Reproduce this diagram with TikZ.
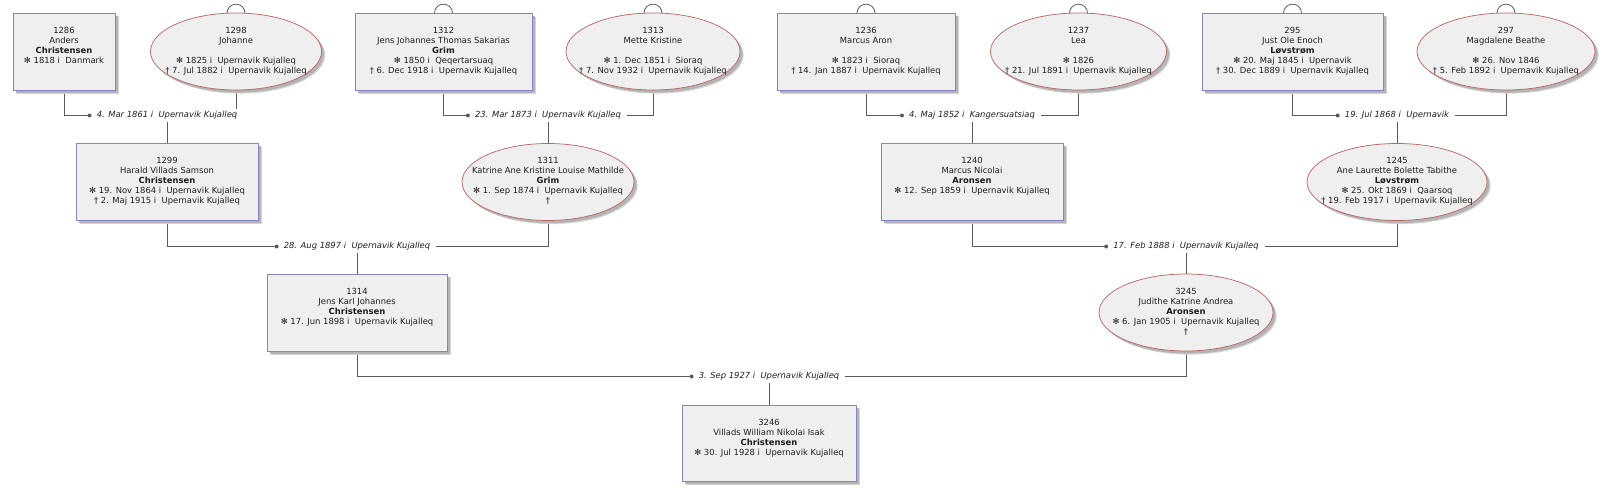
\documentclass[tikz,border=0pt]{standalone}
\usepackage{fontspec}
\setmainfont{DejaVu Sans}
\usetikzlibrary{shadows,backgrounds,shapes.geometric}
\definecolor{boxfill}{HTML}{EFEFEF}
\definecolor{boxline}{HTML}{8484C8}
\definecolor{ellline}{HTML}{B86A68}
\definecolor{conncol}{HTML}{5A5A5A}
\definecolor{shadowA}{HTML}{D4D4D4}
\definecolor{shadowB}{HTML}{B4B4B4}
\definecolor{txtcol}{HTML}{1E1E1E}
\tikzset{
  person/.style={fill=boxfill, inner sep=0pt, minimum height=77pt, line width=0.75pt,
    drop shadow={shadow xshift=3.6pt, shadow yshift=-3.6pt, fill=shadowA, opacity=1},
    drop shadow={shadow xshift=2.6pt, shadow yshift=-2.6pt, fill=shadowB, opacity=1}},
  male/.style={person, rectangle, draw=boxline},
  female/.style={person, ellipse, draw=ellline},
  ptext/.style={align=center, inner sep=0pt, text=txtcol, font=\fontsize{8.4}{10}\selectfont},
  mlab/.style={fill=white, inner xsep=6pt, inner ysep=2.5pt, text=txtcol, font=\fontsize{8.4}{10}\selectfont\itshape},
  mdot/.style={circle, fill=conncol, inner sep=0pt, minimum size=4pt},
  conn/.style={draw=conncol, line width=0.7pt},
  loopst/.style={draw=conncol, line width=0.8pt},
}
\newcommand\bsym{✻}
\begin{document}
\begin{tikzpicture}[x=1pt,y=-1pt]
\useasboundingbox (0,0) rectangle (1607,500);
% ---------- row 1
\node[male, minimum width=102pt, label={[ptext]center:{\strut 1286\\Anders\\\textbf{Christensen}\\\bsym{} 1818 i~ Danmark\\\strut}}] (p1286) at (64,51.5) {};
\node[female, minimum width=171pt, label={[ptext]center:{\strut 1298\\Johanne\\\strut\\\bsym{} 1825 i~ Upernavik Kujalleq\\† 7. Jul 1882 i~ Upernavik Kujalleq\strut}}] (p1298) at (236,51.5) {};
\node[male, minimum width=177pt, label={[ptext]center:{\strut 1312\\Jens Johannes Thomas Sakarias\\\textbf{Grim}\\\bsym{} 1850 i~ Qeqertarsuaq\\† 6. Dec 1918 i~ Upernavik Kujalleq\strut}}] (p1312) at (443.5,51.5) {};
\node[female, minimum width=174pt, label={[ptext]center:{\strut 1313\\Mette Kristine\\\strut\\\bsym{} 1. Dec 1851 i~ Sioraq\\† 7. Nov 1932 i~ Upernavik Kujalleq\strut}}] (p1313) at (653,51.5) {};
\node[male, minimum width=178pt, label={[ptext]center:{\strut 1236\\Marcus Aron\\\strut\\\bsym{} 1823 i~ Sioraq\\† 14. Jan 1887 i~ Upernavik Kujalleq\strut}}] (p1236) at (866,51.5) {};
\node[female, minimum width=176pt, label={[ptext]center:{\strut 1237\\Lea\\\strut\\\bsym{} 1826\\† 21. Jul 1891 i~ Upernavik Kujalleq\strut}}] (p1237) at (1078.5,51.5) {};
\node[male, minimum width=181pt, label={[ptext]center:{\strut 295\\Just Ole Enoch\\\textbf{Løvstrøm}\\\bsym{} 20. Maj 1845 i~ Upernavik\\† 30. Dec 1889 i~ Upernavik Kujalleq\strut}}] (p295) at (1292.5,51.5) {};
\node[female, minimum width=178pt, label={[ptext]center:{\strut 297\\Magdalene Beathe\\\strut\\\bsym{} 26. Nov 1846\\† 5. Feb 1892 i~ Upernavik Kujalleq\strut}}] (p297) at (1506,51.5) {};
% ---------- row 2
\node[male, minimum width=182pt, label={[ptext]center:{\strut 1299\\Harald Villads Samson\\\textbf{Christensen}\\\bsym{} 19. Nov 1864 i~ Upernavik Kujalleq\\† 2. Maj 1915 i~ Upernavik Kujalleq\strut}}] (c1299) at (167,182) {};
\node[female, minimum width=172pt, label={[ptext]center:{\strut 1311\\Katrine Ane Kristine Louise Mathilde\\\textbf{Grim}\\\bsym{} 1. Sep 1874 i~ Upernavik Kujalleq\\†\strut}}] (c1311) at (548,182) {};
\node[male, minimum width=182pt, label={[ptext]center:{\strut 1240\\Marcus Nicolai\\\textbf{Aronsen}\\\bsym{} 12. Sep 1859 i~ Upernavik Kujalleq\\\strut}}] (c1240) at (972,182) {};
\node[female, minimum width=180pt, label={[ptext]center:{\strut 1245\\Ane Laurette Bolette Tabithe\\\textbf{Løvstrøm}\\\bsym{} 25. Okt 1869 i~ Qaarsoq\\† 19. Feb 1917 i~ Upernavik Kujalleq\strut}}] (c1245) at (1397,182) {};
% ---------- row 3
\node[male, minimum width=180pt, label={[ptext]center:{\strut 1314\\Jens Karl Johannes\\\textbf{Christensen}\\\bsym{} 17. Jun 1898 i~ Upernavik Kujalleq\\\strut}}] (c1314) at (357,312.5) {};
\node[female, minimum width=174pt, label={[ptext]center:{\strut 3245\\Judithe Katrine Andrea\\\textbf{Aronsen}\\\bsym{} 6. Jan 1905 i~ Upernavik Kujalleq\\†\strut}}] (c3245) at (1186,312.5) {};
% ---------- row 4
\node[male, minimum width=174pt, minimum height=76pt, label={[ptext]center:{\strut 3246\\Villads William Nikolai Isak\\\textbf{Christensen}\\\bsym{} 30. Jul 1928 i~ Upernavik Kujalleq\\\strut}}] (c3246) at (769,443) {};
% ---------- marriage labels
\node[mlab] (m1) at (167,115.5) {4. Mar 1861 i~ Upernavik Kujalleq};
\node[mlab] (m2) at (548,115.5) {23. Mar 1873 i~ Upernavik Kujalleq};
\node[mlab] (m3) at (972,115.5) {4. Maj 1852 i~ Kangersuatsiaq};
\node[mlab] (m4) at (1397,115.5) {19. Jul 1868 i~ Upernavik};
\node[mlab] (m5) at (357,246.5) {28. Aug 1897 i~ Upernavik Kujalleq};
\node[mlab] (m6) at (1186,246.5) {17. Feb 1888 i~ Upernavik Kujalleq};
\node[mlab] (m7) at (769,376.5) {3. Sep 1927 i~ Upernavik Kujalleq};
\foreach \m in {m1,m2,m3,m4,m5,m6,m7}
  \node[mdot] (\m d) at ([xshift=-1pt]\m.west) {};
% ---------- loops
\foreach \p in {p1298,p1312,p1313,p1236,p1237,p295,p297}
  \draw[loopst] ([xshift=-9pt,yshift=-0.5pt]\p.north) arc[start angle=180,end angle=0,radius=9pt];
% ---------- connectors
\begin{scope}[on background layer]
\draw[conn] (p1286.south) |- (m1.center) -| (p1298.south);
\draw[conn] (p1312.south) |- (m2.center) -| (p1313.south);
\draw[conn] (p1236.south) |- (m3.center) -| (p1237.south);
\draw[conn] (p295.south) |- (m4.center) -| (p297.south);
\draw[conn] (c1299.south) |- (m5.center) -| (c1311.south);
\draw[conn] (c1240.south) |- (m6.center) -| (c1245.south);
\draw[conn] (c1314.south) |- (m7.center) -| (c3245.south);
\draw[conn] (m1.south) -- (c1299.north);
\draw[conn] (m2.south) -- (c1311.north);
\draw[conn] (m3.south) -- (c1240.north);
\draw[conn] (m4.south) -- (c1245.north);
\draw[conn] (m5.south) -- (c1314.north);
\draw[conn] (m6.south) -- (c3245.north);
\draw[conn] (m7.south) -- (c3246.north);
\end{scope}
\end{tikzpicture}
\end{document}
